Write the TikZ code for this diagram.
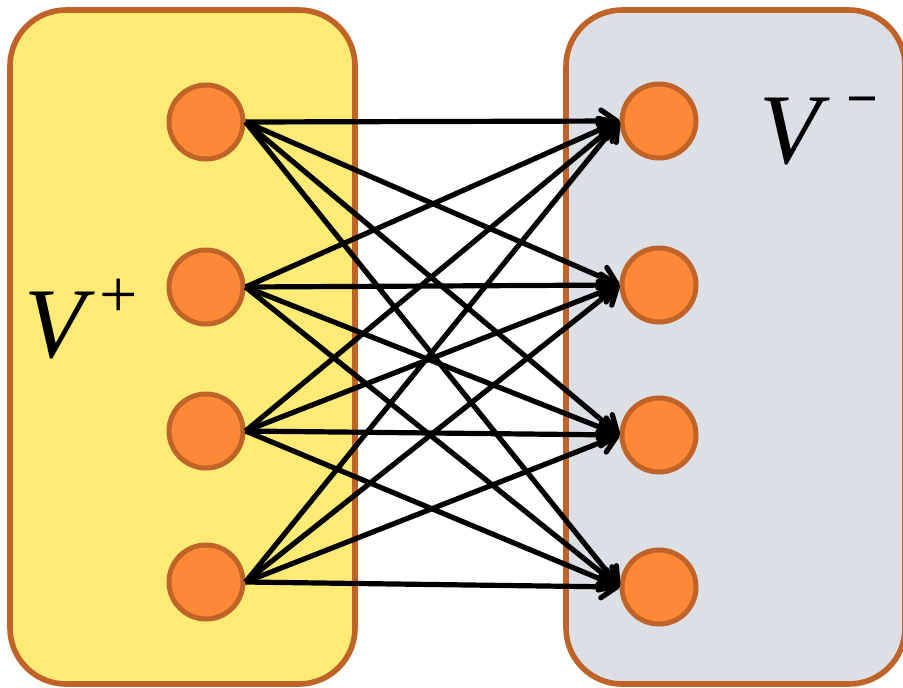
\documentclass[tikz,border=0pt]{standalone}
\usepackage{fontspec}
\setmainfont{Liberation Serif}
\usetikzlibrary{arrows.meta,positioning}

\definecolor{boxedge}{HTML}{BF6329}
\definecolor{plusfill}{HTML}{FDEB75}
\definecolor{minusfill}{HTML}{DCDFE3}
\definecolor{vertfill}{HTML}{FD8836}

% #1 gap, #2 raise, #3 size, #4 sign
\newcommand{\setname}[4]{{\fontsize{50}{52}\selectfont\itshape V}\hspace{#1}\raisebox{#2}{\fontsize{#3}{36}\selectfont #4}}

\begin{document}
\begin{tikzpicture}[x=0.5pt,y=-0.5pt,
    >={Straight Barb[length=8pt,width=11pt,line cap=round,line join=round]},
    part/.style={draw=boxedge,line width=2.8pt,rounded corners=28pt},
    vertex/.style={circle,draw=boxedge,fill=vertfill,line width=2.5pt,minimum size=37pt,inner sep=0pt},
    link/.style={->,line width=2.6pt,black}]
      \useasboundingbox (0,0) rectangle (903,687);

      % the two sides
      \draw[part,fill=plusfill]  (10,10) rectangle (355,684);
      \draw[part,fill=minusfill] (566,10) rectangle (905,684);

      % vertices
      \node[vertex] (l1) at (206,122) {};
      \node[vertex] (l2) [below=43pt of l1] {};
      \node[vertex] (l3) [below=32.5pt of l2] {};
      \node[vertex] (l4) [below=36pt of l3] {};

      \node[vertex] (r1) at (659,121) {};
      \node[vertex] (r2) [below=42.5pt of r1] {};
      \node[vertex] (r3) [below=35.5pt of r2] {};
      \node[vertex] (r4) [below=36.5pt of r3] {};

      % labels
      \node[anchor=base west,inner sep=0pt] (vplus)  at (24,357) {\setname{7pt}{20pt}{34}{+}};
      \node[anchor=base west,inner sep=0pt] (vminus) at (759,163) {\setname{13pt}{23pt}{28}{\textbf{−}}};

      % every vertex on the left to every vertex on the right
      \foreach \i in {1,...,4}
        \foreach \j in {1,...,4}
          \draw[link] (l\i.east) -- (r\j.west);
\end{tikzpicture}
\end{document}
